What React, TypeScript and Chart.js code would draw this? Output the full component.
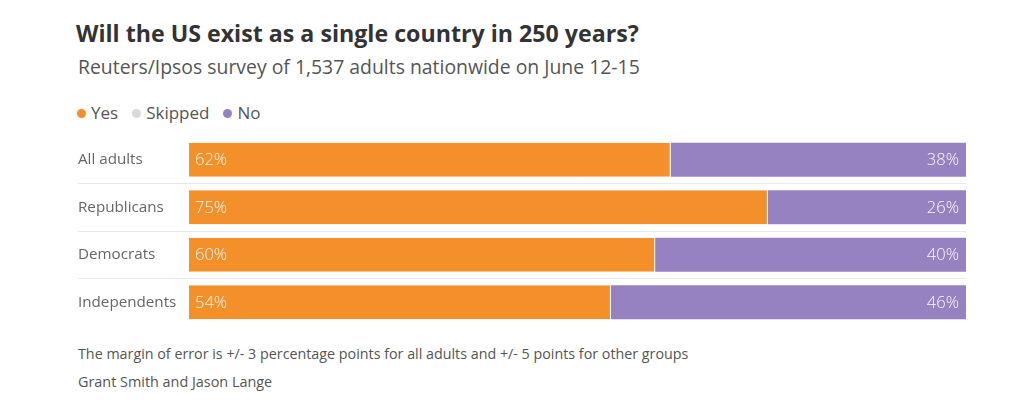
import React, { useEffect, useRef } from "react";
import { Chart, registerables } from "chart.js";

Chart.register(...registerables);

const TITLE = "Will the US exist as a single country in 250 years?";
const SUBTITLE = "Reuters/Ipsos survey of 1,537 adults nationwide on June 12-15";
const NOTE = "The margin of error is +/- 3 percentage points for all adults and +/- 5 points for other groups";
const CREDIT = "Grant Smith and Jason Lange";

const categories = ["All adults", "Republicans", "Democrats", "Independents"];
const yesValues = [62, 74.5, 60, 54.3];
const skippedValues = [0, 0, 0, 0];
const noValues = [38, 25.5, 40, 45.7];

const seriesNames = ["Yes", "Skipped", "No"];
const seriesColors = ["#f39029", "#d9d9d9", "#9682c0"];

const FONT = "'Open Sans', sans-serif";

const labelPlugin = {
  id: "barLabels",
  afterDatasetsDraw(chart: any) {
    const ctx = chart.ctx;
    ctx.save();
    ctx.font = `300 16.5px ${FONT}`;
    ctx.fillStyle = "rgba(255,255,255,0.95)";
    ctx.textBaseline = "middle";
    const yesMeta = chart.getDatasetMeta(0);
    yesMeta.data.forEach((el: any, i: number) => {
      const v = chart.data.datasets[0].data[i];
      ctx.textAlign = "left";
      ctx.fillText(Math.round(v) + "%", el.base + 6, el.y + 1);
    });
    const noMeta = chart.getDatasetMeta(2);
    noMeta.data.forEach((el: any, i: number) => {
      const v = chart.data.datasets[2].data[i];
      ctx.textAlign = "right";
      ctx.fillText(Math.round(v) + "%", el.x - 7, el.y + 1);
    });
    ctx.restore();
  },
};

export default function App() {
  const ref = useRef<HTMLCanvasElement>(null);
  useEffect(() => {
    if (!ref.current) return;
    const values = [yesValues, skippedValues, noValues];
    const chart = new Chart(ref.current, {
      type: "bar",
      data: {
        labels: categories,
        datasets: seriesNames.map((name, i) => ({
          label: name,
          data: values[i],
          backgroundColor: seriesColors[i],
          borderColor: "#ffffff",
          borderWidth: i === 0 ? { right: 1 } : 0,
          borderSkipped: false,
          categoryPercentage: 1,
          barPercentage: 0.72,
        })),
      },
      options: {
        indexAxis: "y",
        animation: false,
        responsive: false,
        maintainAspectRatio: false,
        layout: { padding: { left: 8, right: 14, top: 10, bottom: 10 } },
        plugins: { legend: { display: false }, tooltip: { enabled: false } },
        scales: {
          x: { display: false, stacked: true, min: 0, max: 100 },
          y: {
            stacked: true,
            border: { display: false },
            afterFit: (s: any) => {
              s.width = 111;
            },
            grid: {
              offset: true,
              drawTicks: true,
              tickLength: 111,
              lineWidth: 1,
              color: (c: any) =>
                c.type !== "tick" || c.index === 0 ? "rgba(0,0,0,0)" : "#e8e8e8",
            },
            ticks: {
              crossAlign: "far",
              padding: 0,
              color: "#666666",
              font: { family: FONT, size: 15.2 },
            },
          },
        },
      },
      plugins: [labelPlugin],
    });
    return () => chart.destroy();
  }, []);

  const abs = (x: number, y: number): React.CSSProperties => ({
    position: "absolute",
    left: x,
    top: y,
    whiteSpace: "nowrap",
    fontFamily: FONT,
  });

  return (
    <div style={{ position: "fixed", left: 0, top: 0, width: 1024, height: 410, background: "#fff" }}>
      <div style={{ ...abs(76, 18), fontSize: 23.2, fontWeight: 700, color: "#333", lineHeight: "30px" }}>
        {TITLE}
      </div>
      <div style={{ ...abs(78, 53), fontSize: 19.4, fontWeight: 400, color: "#555", lineHeight: "28px" }}>
        {SUBTITLE}
      </div>
      <div style={{ ...abs(77, 101), fontSize: 17, color: "#555", lineHeight: "24px", display: "flex", alignItems: "center" }}>
        {seriesNames.map((n, i) => (
          <span key={n} style={{ display: "inline-flex", alignItems: "center", marginRight: 14 }}>
            <span
              style={{
                display: "inline-block",
                width: 9,
                height: 9,
                borderRadius: "50%",
                background: seriesColors[i],
                marginRight: 5,
              }}
            />
            {n}
          </span>
        ))}
      </div>
      <canvas ref={ref} width={910} height={210} style={{ position: "absolute", left: 70, top: 126 }} />
      <div style={{ ...abs(78, 344), fontSize: 14.3, color: "#555", lineHeight: "20px" }}>{NOTE}</div>
      <div style={{ ...abs(78, 372), fontSize: 14.4, color: "#555", lineHeight: "20px" }}>{CREDIT}</div>
    </div>
  );
}
